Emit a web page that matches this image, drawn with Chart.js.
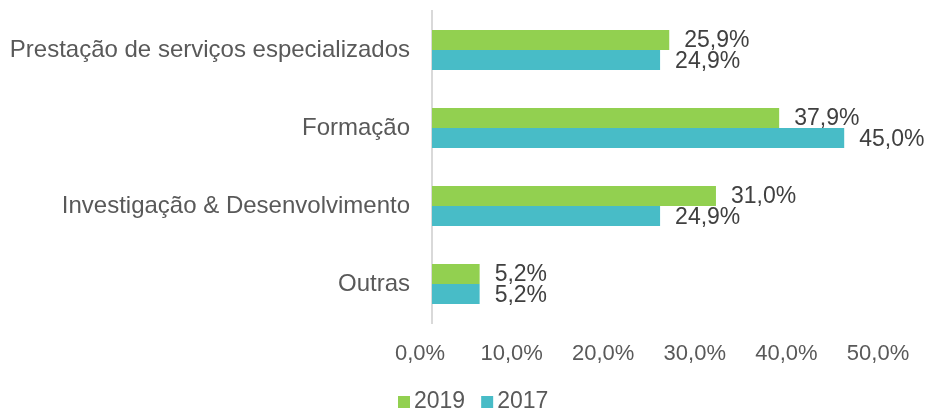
<!DOCTYPE html>
<html>
<head>
<meta charset="utf-8">
<script src="https://cdn.jsdelivr.net/npm/chart.js@4.4.1/dist/chart.umd.min.js"></script>
<style>
  html, body { margin: 0; padding: 0; background: #ffffff; }
  #wrap { width: 930px; height: 412px; position: relative; }
</style>
</head>
<body>
<div id="wrap"><canvas id="barChart"></canvas></div>
<script>
// categorias e valores (%)
const categorias = [
    'Prestação de serviços especializados',
    'Formação',
    'Investigação & Desenvolvimento',
    'Outras'
];
const valores2019 = [25.9, 37.9, 31.0, 5.2];
const valores2017 = [24.9, 45.0, 24.9, 5.2];
const xTicks = [0, 10, 20, 30, 40, 50];

const fonte = '"Liberation Sans", Arial, sans-serif';

function pct(v) {
    return v.toFixed(1).replace('.', ',') + '%';
}

// rótulos de dados à direita das barras
const rotulos = {
    id: 'rotulos',
    afterDatasetsDraw(chart) {
        const ctx = chart.ctx;
        ctx.save();
        ctx.font = '23px ' + fonte;
        ctx.fillStyle = '#404040';
        ctx.textBaseline = 'middle';
        ctx.textAlign = 'left';
        chart.data.datasets.forEach((ds, i) => {
            chart.getDatasetMeta(i).data.forEach((bar, j) => {
                ctx.fillText(pct(ds.data[j]), bar.x + 15, bar.y + (i === 0 ? 1 : 2));
            });
        });
        ctx.restore();
    }
};

// legenda simples em baixo (quadrado + texto, estilo Excel)
const legenda = {
    id: 'legenda',
    afterDraw(chart) {
        const ctx = chart.ctx;
        ctx.save();
        ctx.font = '23px ' + fonte;
        ctx.textBaseline = 'middle';
        ctx.textAlign = 'left';
        const y = 402;
        let x = 398;
        chart.data.datasets.forEach((ds) => {
            ctx.fillStyle = ds.backgroundColor;
            ctx.fillRect(x, y - 6, 12, 12);
            ctx.fillStyle = '#595959';
            ctx.fillText(ds.label, x + 16, y);
            x += 16 + ctx.measureText(ds.label).width + 16;
        });
        ctx.restore();
    }
};

new Chart(document.getElementById('barChart'), {
    type: 'bar',
    data: {
        labels: categorias,
        datasets: [
            {
                label: '2019',
                data: valores2019,
                backgroundColor: '#92d050',
                barPercentage: 1,
                categoryPercentage: 0.513
            },
            {
                label: '2017',
                data: valores2017,
                backgroundColor: '#48bcc7',
                barPercentage: 1,
                categoryPercentage: 0.513
            }
        ]
    },
    options: {
        indexAxis: 'y',
        responsive: true,
        maintainAspectRatio: false,
        animation: false,
        layout: { padding: { top: 11, right: 40, left: 0, bottom: 0 } },
        plugins: {
            legend: { display: false },
            tooltip: { enabled: false }
        },
        scales: {
            x: {
                min: 0,
                max: 50,
                afterBuildTicks: (axis) => { axis.ticks = xTicks.map(v => ({ value: v })); },
                grid: { display: false },
                border: { display: false },
                ticks: {
                    font: { family: fonte, size: 22 },
                    color: '#595959',
                    padding: 10,
                    labelOffset: -12,
                    callback: (v) => pct(v)
                },
                afterFit: (axis) => {
                    axis.height = 89;
                    axis.paddingLeft = 0;
                    axis.paddingRight = 0;
                }
            },
            y: {
                grid: { display: false },
                border: { display: true, color: '#d9d9d9', width: 2 },
                ticks: {
                    font: { family: fonte, size: 24 },
                    color: '#595959',
                    padding: 14
                },
                afterFit: (axis) => {
                    axis.width = 432;
                    axis.paddingTop = 0;
                    axis.paddingBottom = 0;
                }
            }
        }
    },
    plugins: [rotulos, legenda]
});
</script>
</body>
</html>
